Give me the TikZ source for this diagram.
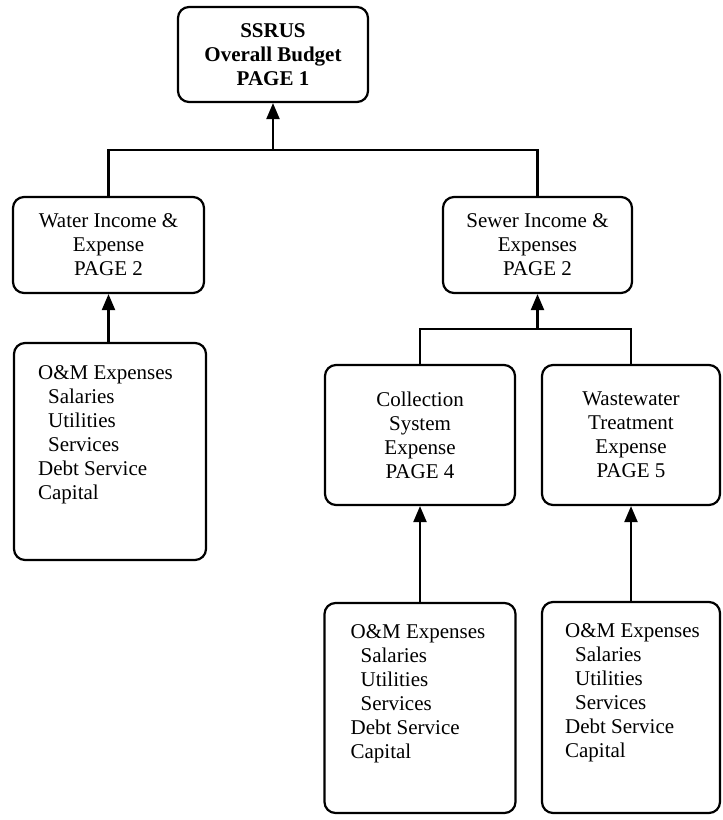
\documentclass[tikz,border=0pt]{standalone}
\usepackage{fontspec}
\setmainfont{Liberation Serif}
\usetikzlibrary{arrows.meta}
\begin{document}
\begin{tikzpicture}[x=1pt,y=-1pt,
  box/.style={draw, line width=2.2pt, rounded corners=11pt, inner sep=0pt, align=center, font=\fontsize{21}{24}\selectfont},
  listtxt/.style={inner sep=0pt, align=left, font=\fontsize{21}{24}\selectfont},
  link/.style={line width=2.2pt},
  arr/.style={line width=2.2pt, -{Triangle[length=16pt,width=13pt]}}]
\useasboundingbox (0,0) rectangle (723,820);
% level 1
\node[box, minimum width=190pt, minimum height=95pt, font=\fontsize{21}{24}\selectfont\bfseries] (top) at (273,54.5) {SSRUS\\Overall Budget\\PAGE 1};
% level 2
\node[box, minimum width=191pt, minimum height=96pt] (water) at (108.5,245) {Water Income \&\\Expense\\PAGE 2};
\node[box, minimum width=189pt, minimum height=96pt] (sewer) at (537.5,245) {Sewer Income \&\\Expenses\\PAGE 2};
% level 3
\node[box, minimum width=192pt, minimum height=217pt] (omL) at (110,451.5) {};
\node[box, minimum width=190pt, minimum height=140pt] (coll) at (420,435) {Collection\\System\\Expense\\PAGE 4};
\node[box, minimum width=178pt, minimum height=140pt] (waste) at (631,435) {Wastewater\\Treatment\\Expense\\PAGE 5};
% level 4
\node[box, minimum width=191pt, minimum height=210pt] (omC) at (420,708) {};
\node[box, minimum width=178pt, minimum height=211pt] (omW) at (631,707.5) {};
% list texts
\node[listtxt, anchor=north west] (omLt) at ([xshift=25pt,yshift=-23pt]omL.north west)
  {O\&M Expenses\\\hspace*{10pt}Salaries\\\hspace*{10pt}Utilities\\\hspace*{10pt}Services\\Debt Service\\Capital};
\node[listtxt, anchor=north west] (omCt) at ([xshift=27pt,yshift=-22pt]omC.north west)
  {O\&M Expenses\\\hspace*{10pt}Salaries\\\hspace*{10pt}Utilities\\\hspace*{10pt}Services\\Debt Service\\Capital};
\node[listtxt, anchor=north west] (omWt) at ([xshift=24pt,yshift=-22pt]omW.north west)
  {O\&M Expenses\\\hspace*{10pt}Salaries\\\hspace*{10pt}Utilities\\\hspace*{10pt}Services\\Debt Service\\Capital};
% buses
\coordinate (bus1) at (273,150);
\coordinate (bus2) at (537.5,329);
\draw[link] (water.north) |- (bus1) -| (sewer.north);
\draw[arr] (bus1) -- (top.south);
\draw[link] (coll.north) |- (bus2) -| (waste.north);
\draw[arr] (bus2) -- (sewer.south);
% arrows from detail boxes
\draw[arr] (omL.north -| water.south) -- (water.south);
\draw[arr] (omC.north) -- (coll.south);
\draw[arr] (omW.north) -- (waste.south);
\end{tikzpicture}
\end{document}
